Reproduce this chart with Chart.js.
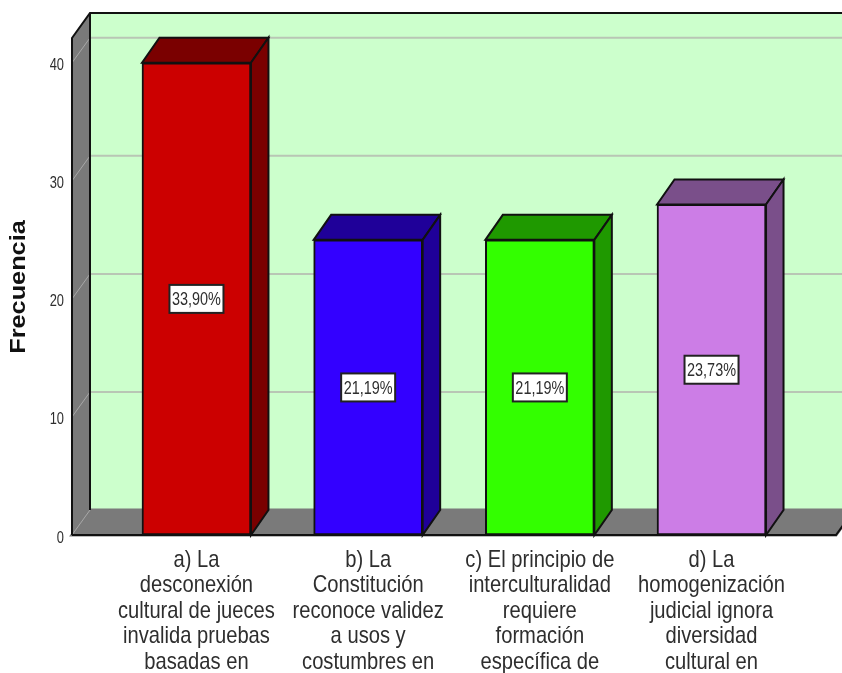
<!DOCTYPE html>
<html>
<head>
<meta charset="utf-8">
<style>
  body { margin: 0; background: #fff; }
  canvas { display: block; filter: blur(0.4px); }
</style>
<script src="https://cdn.jsdelivr.net/npm/chart.js@4"></script>
</head>
<body>
<canvas id="chart" width="842" height="673"></canvas>
<script>
// Data
const categories = [
    ['a) La', 'desconexión', 'cultural de jueces', 'invalida pruebas', 'basadas en'],
    ['b) La', 'Constitución', 'reconoce validez', 'a usos y', 'costumbres en'],
    ['c) El principio de', 'interculturalidad', 'requiere', 'formación', 'específica de'],
    ['d) La', 'homogenización', 'judicial ignora', 'diversidad', 'cultural en']
];
const frecuencia = [40, 25, 25, 28];
const porcentajes = ['33,90%', '21,19%', '21,19%', '23,73%'];
const yTicks = [0, 10, 20, 30, 40];

const frontColors = ['#cc0000', '#3300ff', '#33ff00', '#cc7de6'];
const depthColors = ['#7a0000', '#1f0099', '#1f9900', '#7a4f8a'];

// 3D offset of the back wall
const depthX = 18;
const depthY = -25;
const barDepthX = 17.5;

const sansFont = '"Liberation Sans", sans-serif';

function polygon(ctx, pts, fill, stroke, lineWidth) {
    ctx.beginPath();
    pts.forEach((p, i) => i ? ctx.lineTo(p[0], p[1]) : ctx.moveTo(p[0], p[1]));
    ctx.closePath();
    if (fill) {
        ctx.fillStyle = fill;
        ctx.fill();
    }
    if (stroke) {
        ctx.strokeStyle = stroke;
        ctx.lineWidth = lineWidth || 2;
        ctx.stroke();
    }
}

// No narrow font is installed, so squeeze Liberation Sans horizontally
function narrowText(ctx, text, x, y, size, scaleX, align) {
    ctx.save();
    ctx.translate(x, y);
    ctx.scale(scaleX, 1);
    ctx.font = size + 'px ' + sansFont;
    ctx.fillStyle = '#2e2e2e';
    ctx.textAlign = align || 'center';
    ctx.textBaseline = 'middle';
    ctx.fillText(text, 0, 0);
    ctx.restore();
}

const wallsPlugin = {
    id: 'walls',
    // Walls, floor and gridlines behind the bars
    beforeDatasetsDraw(chart) {
        const ctx = chart.ctx;
        const a = chart.chartArea;
        const y = chart.scales.y;
        ctx.save();
        polygon(ctx, [[a.left + depthX, a.top + depthY], [a.right + depthX, a.top + depthY],
            [a.right + depthX, a.bottom + depthY], [a.left + depthX, a.bottom + depthY]], '#ccffcc');
        polygon(ctx, [[a.left, a.top], [a.left + depthX, a.top + depthY],
            [a.left + depthX, a.bottom + depthY], [a.left, a.bottom]], '#7a7a7a');
        polygon(ctx, [[a.left, a.bottom], [a.left + depthX, a.bottom + depthY],
            [a.right + depthX, a.bottom + depthY], [a.right, a.bottom]], '#7a7a7a', '#7a7a7a', 3);

        yTicks.forEach(t => {
            const py = y.getPixelForValue(t);
            ctx.strokeStyle = '#b9c6b5';
            ctx.lineWidth = 2;
            if (t > 0) {
                ctx.beginPath();
                ctx.moveTo(a.left + depthX, py + depthY);
                ctx.lineTo(a.right + depthX, py + depthY);
                ctx.stroke();
            }
            ctx.strokeStyle = '#a8a8a8';
            ctx.lineWidth = 1;
            ctx.beginPath();
            ctx.moveTo(a.left, py);
            ctx.lineTo(a.left + depthX, py + depthY);
            ctx.stroke();
        });

        // outlines
        ctx.strokeStyle = '#111';
        ctx.lineWidth = 2;
        ctx.beginPath();
        ctx.moveTo(a.left, a.bottom);
        ctx.lineTo(a.left, a.top);
        ctx.lineTo(a.left + depthX, a.top + depthY);
        ctx.lineTo(a.right + depthX, a.top + depthY);
        ctx.moveTo(a.left + depthX, a.top + depthY);
        ctx.lineTo(a.left + depthX, a.bottom + depthY);
        ctx.moveTo(a.left, a.bottom);
        ctx.lineTo(a.right, a.bottom);
        ctx.lineTo(a.right + depthX, a.bottom + depthY);
        ctx.stroke();
        ctx.restore();
    },
    // Top and side faces of the bars, percentage boxes and axis text
    afterDatasetsDraw(chart) {
        const ctx = chart.ctx;
        const a = chart.chartArea;
        ctx.save();
        chart.getDatasetMeta(0).data.forEach((bar, i) => {
            const half = bar.width / 2;
            const x0 = bar.x - half;
            const x1 = bar.x + half;
            polygon(ctx, [[x0, bar.y], [x0 + barDepthX, bar.y + depthY], [x1 + barDepthX, bar.y + depthY], [x1, bar.y]],
                depthColors[i], '#111');
            polygon(ctx, [[x1, bar.y], [x1 + barDepthX, bar.y + depthY], [x1 + barDepthX, bar.base + depthY], [x1, bar.base]],
                depthColors[i], '#111');

            const midY = (bar.y + bar.base) / 2;
            ctx.fillStyle = '#fff';
            ctx.strokeStyle = '#222';
            ctx.lineWidth = 2;
            ctx.fillRect(bar.x - 27, midY - 14, 54, 28);
            ctx.strokeRect(bar.x - 27, midY - 14, 54, 28);
            narrowText(ctx, porcentajes[i], bar.x, midY + 1, 18.5, 0.78);
        });

        chart.scales.y.ticks.forEach(t => {
            narrowText(ctx, String(t.value), 64, chart.scales.y.getPixelForValue(t.value) + 3, 16.5, 0.78, 'right');
        });

        chart.scales.x.ticks.forEach(t => {
            const cx = chart.scales.x.getPixelForValue(t.value);
            categories[t.value].forEach((line, n) => {
                narrowText(ctx, line, cx, a.bottom + 25 + n * 25.5, 24, 0.84);
            });
        });

        // y axis title, stretched to the reference's width
        ctx.translate(18.5, 287);
        ctx.rotate(-Math.PI / 2);
        ctx.scale(1.15, 1);
        ctx.font = 'bold 22px ' + sansFont;
        ctx.fillStyle = '#111';
        ctx.textAlign = 'center';
        ctx.textBaseline = 'middle';
        ctx.fillText('Frecuencia', 0, 0);
        ctx.restore();
    }
};

new Chart(document.getElementById('chart').getContext('2d'), {
    type: 'bar',
    data: {
        datasets: [{
            label: 'Frecuencia',
            data: frecuencia.map((v, i) => ({ x: i, y: v })),
            backgroundColor: frontColors,
            borderColor: '#111',
            borderWidth: 2,
            borderSkipped: false,
            barThickness: 109,
            clip: false
        }]
    },
    options: {
        responsive: false,
        animation: false,
        layout: { padding: { top: 38, right: 6, left: 0, bottom: 0 } },
        plugins: { legend: { display: false }, tooltip: { enabled: false } },
        scales: {
            x: {
                type: 'linear',
                offset: false,
                min: -0.725,
                max: 3.725,
                grid: { display: false, drawTicks: false },
                border: { display: false },
                afterBuildTicks(axis) {
                    axis.ticks = categories.map((_, i) => ({ value: i }));
                },
                afterFit(axis) {
                    axis.height = 138;
                },
                ticks: { display: false }
            },
            y: {
                min: 0,
                max: 42.1,
                grid: { display: false, drawTicks: false },
                border: { display: false },
                afterBuildTicks(axis) {
                    axis.ticks = yTicks.map(v => ({ value: v }));
                },
                afterFit(axis) {
                    axis.width = 72;
                },
                ticks: { display: false }
            }
        }
    },
    plugins: [wallsPlugin]
});
</script>
</body>
</html>
